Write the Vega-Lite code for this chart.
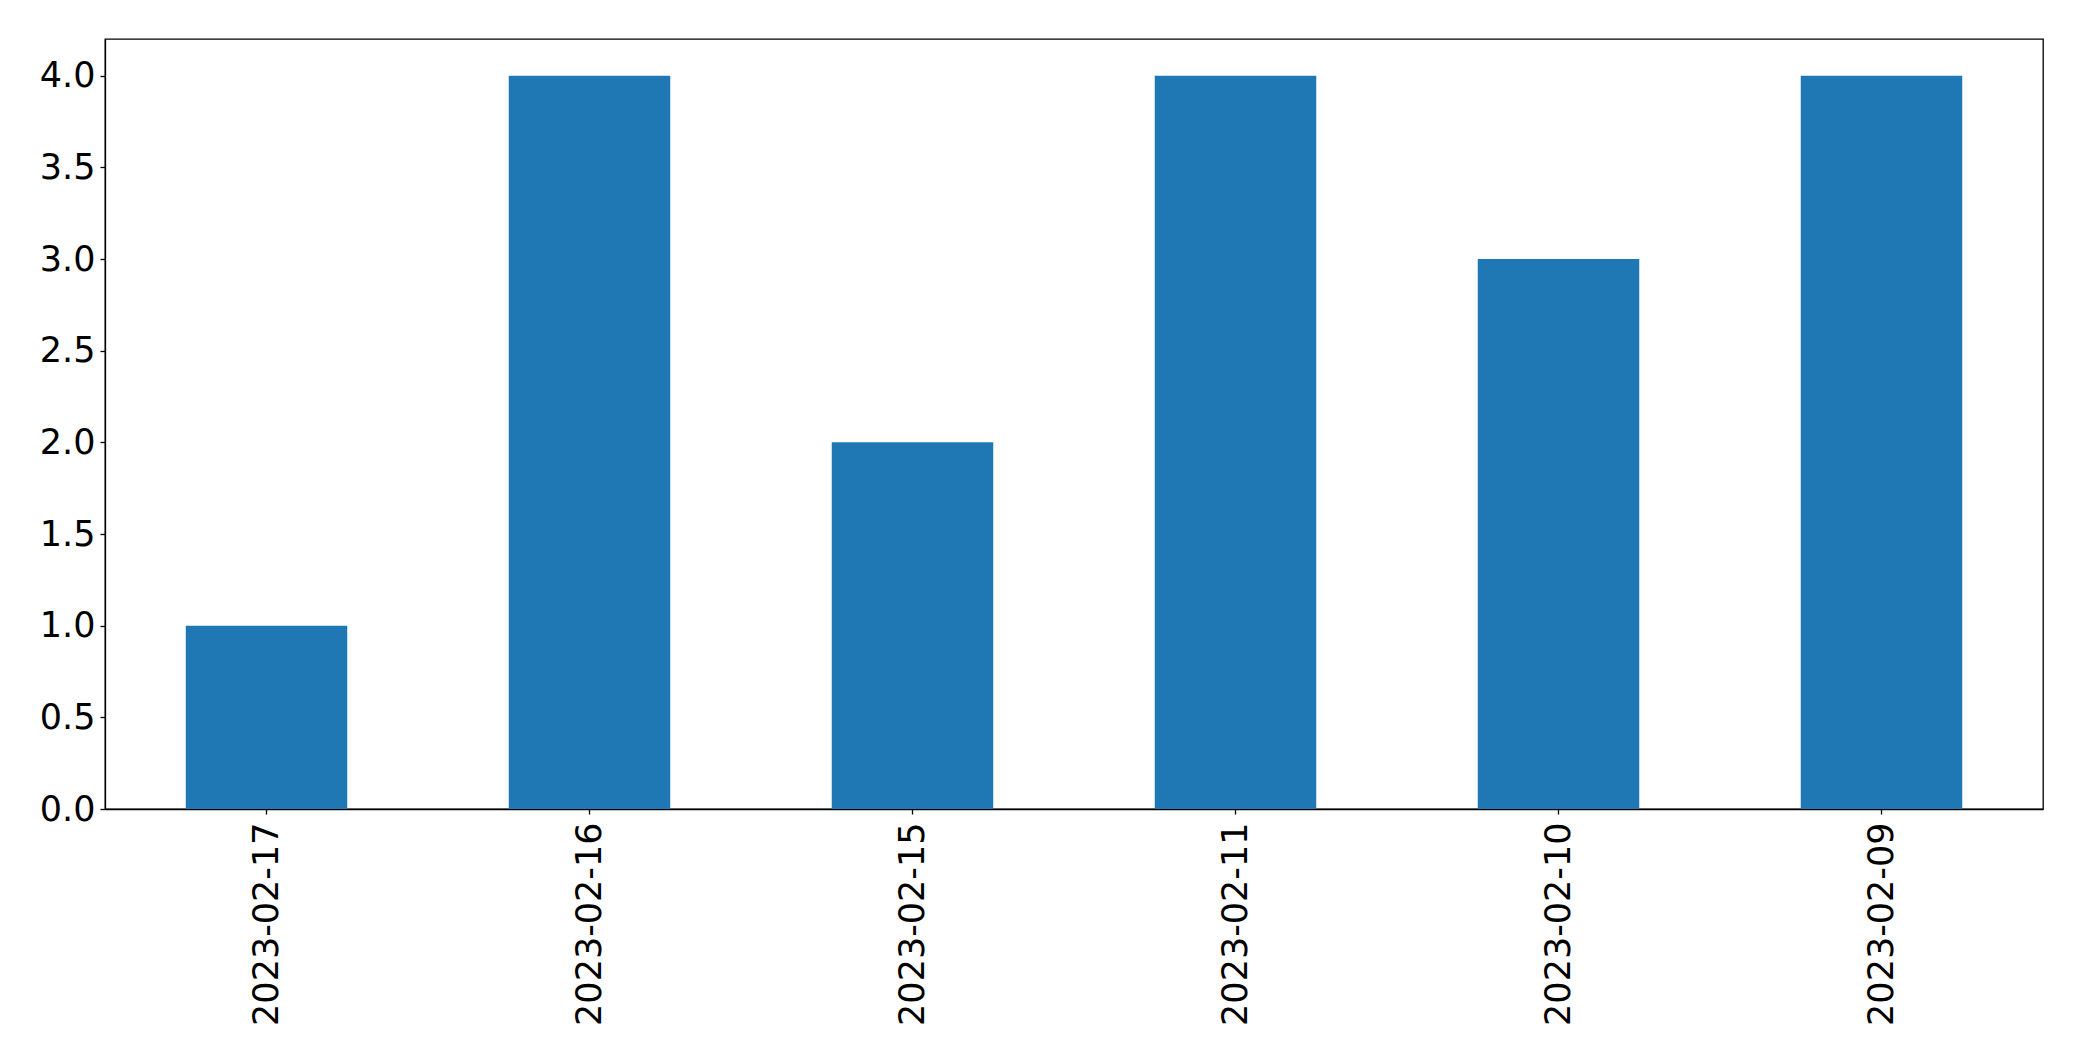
{
  "$schema": "https://vega.github.io/schema/vega-lite/v6.json",
  "width": 1938,
  "height": 770,
  "autosize": {"type": "none"},
  "padding": {"left": 105, "top": 39, "right": 39, "bottom": 252},
  "background": "white",
  "config": {
    "view": {"stroke": "black", "strokeWidth": 1.3},
    "font": "DejaVu Sans",
    "axis": {
      "labelFont": "DejaVu Sans",
      "labelFontSize": 35,
      "labelLimit": 0,
      "labelColor": "black",
      "domainColor": "black",
      "tickColor": "black",
      "tickSize": 5,
      "tickWidth": 1.3,
      "domainWidth": 1.3,
      "labelPadding": 5,
      "grid": false,
      "title": null
    }
  },
  "data": {
    "values": [
      {"date": "2023-02-17", "count": 1},
      {"date": "2023-02-16", "count": 4},
      {"date": "2023-02-15", "count": 2},
      {"date": "2023-02-11", "count": 4},
      {"date": "2023-02-10", "count": 3},
      {"date": "2023-02-09", "count": 4}
    ]
  },
  "mark": {"type": "bar", "color": "#1f77b4"},
  "encoding": {
    "x": {
      "field": "date",
      "type": "nominal",
      "sort": null,
      "scale": {"paddingInner": 0.5, "paddingOuter": 0.25},
      "axis": {"labelAngle": -90, "labelBaseline": "middle", "labelAlign": "right", "labelPadding": 8}
    },
    "y": {
      "field": "count",
      "type": "quantitative",
      "scale": {"domain": [0, 4.2], "nice": false},
      "axis": {"values": [0, 0.5, 1, 1.5, 2, 2.5, 3, 3.5, 4], "format": ".1f"}
    }
  }
}
